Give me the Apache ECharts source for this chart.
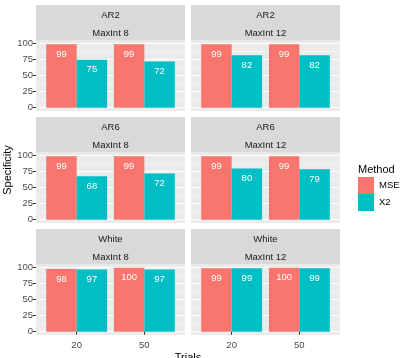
<!DOCTYPE html>
<html>
<head>
<meta charset="utf-8">
<script src="https://cdn.jsdelivr.net/npm/echarts@6/dist/echarts.min.js"></script>
<style>html,body{margin:0;padding:0;background:#fff}#c{width:403px;height:358px}</style>
</head>
<body>
<div id="c"></div>
<script>
const categories = ['20', '50'];
const rowLabels = ['AR2', 'AR6', 'White'];
const colLabels = ['MaxInt 8', 'MaxInt 12'];
const methods = ['MSE', 'X2'];
// panel order: AR2/8, AR2/12, AR6/8, AR6/12, White/8, White/12
const mseValues = [[99, 99], [99, 99], [99, 99], [99, 99], [98, 100], [99, 100]];
const x2Values = [[75, 72], [82, 82], [68, 72], [80, 79], [97, 97], [99, 99]];
const yTicks = [0, 25, 50, 75, 100];

const colors = { MSE: '#F8766D', X2: '#00BFC4' };
const FONT = '"Liberation Sans", Arial, sans-serif';
const panelTops = [40.5, 152.5, 264.5];
const panelH = 70.4;
const panelLefts = [36, 191];
const panelW = 149;
const expandY = 3.2, expandX = 6.8;

const grids = [], xAxes = [], yAxes = [], series = [], graphics = [];
for (let r = 0; r < 3; r++) for (let c = 0; c < 2; c++) {
  const p = r * 2 + c;
  grids.push({ left: panelLefts[c] + expandX, top: panelTops[r] + expandY, width: panelW - 2 * expandX, height: panelH - 2 * expandY });
  xAxes.push({
    type: 'category', gridIndex: p, data: categories, offset: expandY,
    axisLine: { show: false },
    axisTick: { show: r === 2, alignWithLabel: true, length: 3, lineStyle: { color: '#333' } },
    axisLabel: { show: r === 2, fontSize: 9.5, color: '#4D4D4D', margin: 5, fontFamily: FONT },
    splitLine: { show: false }
  });
  yAxes.push({ type: 'value', gridIndex: p, min: yTicks[0], max: yTicks[yTicks.length - 1], show: false });
  const vals = { MSE: mseValues[p], X2: x2Values[p] };
  methods.forEach(m => {
    series.push({
      type: 'bar', name: m, xAxisIndex: p, yAxisIndex: p, data: vals[m],
      barGap: '0%', barCategoryGap: '10%',
      itemStyle: { color: colors[m] },
      label: { show: true, position: 'insideTop', distance: 5, color: '#fff', fontSize: 9.5, fontFamily: FONT },
      emphasis: { disabled: true }
    });
  });
}
for (let r = 0; r < 3; r++) for (let c = 0; c < 2; c++) {
  const g = 6 + r * 2 + c;
  grids.push({ left: panelLefts[c], top: panelTops[r] + expandY, width: panelW, height: panelH - 2 * expandY });
  xAxes.push({ type: 'value', gridIndex: g, min: 0, max: 1, show: false });
  yAxes.push({
    type: 'value', gridIndex: g, min: yTicks[0], max: yTicks[yTicks.length - 1], interval: 25,
    axisLine: { show: false },
    axisTick: { show: c === 0, length: 3, lineStyle: { color: '#333' } },
    axisLabel: { show: c === 0, fontSize: 9.5, color: '#4D4D4D', margin: 3, fontFamily: FONT },
    splitLine: { show: true, lineStyle: { color: '#fff', width: 1 } },
    minorTick: { show: false, splitNumber: 2 },
    minorSplitLine: { show: true, lineStyle: { color: '#fff', width: 0.5 } }
  });
}
for (let r = 0; r < 3; r++) for (let c = 0; c < 2; c++) {
  graphics.push({ type: 'rect', z: -100, shape: { x: panelLefts[c], y: panelTops[r], width: panelW, height: panelH }, style: { fill: '#EBEBEB' } });
  const st = panelTops[r] - 35.5;
  graphics.push({ type: 'rect', z: -100, shape: { x: panelLefts[c], y: st, width: panelW, height: 35.5 }, style: { fill: '#D9D9D9' } });
  graphics.push({ type: 'text', x: panelLefts[c] + panelW / 2, y: st + 10, style: { text: rowLabels[r], fontSize: 9.5, fill: '#1A1A1A', align: 'center', verticalAlign: 'middle', fontFamily: FONT } });
  graphics.push({ type: 'text', x: panelLefts[c] + panelW / 2, y: st + 28.5, style: { text: colLabels[c], fontSize: 9.5, fill: '#1A1A1A', align: 'center', verticalAlign: 'middle', fontFamily: FONT } });
}
graphics.push({ type: 'text', x: 188, y: 358, style: { text: 'Trials', fontSize: 11, fill: '#000', align: 'center', verticalAlign: 'middle', fontFamily: FONT } });
graphics.push({ type: 'text', x: 8, y: 170, rotation: Math.PI / 2, style: { text: 'Specificity', fontSize: 11, fill: '#000', align: 'center', verticalAlign: 'middle', fontFamily: FONT } });
graphics.push({ type: 'text', x: 358, y: 170, style: { text: 'Method', fontSize: 11, fill: '#000', align: 'left', verticalAlign: 'middle', fontFamily: FONT } });

const chart = echarts.init(document.getElementById('c'), null, { renderer: 'canvas' });
chart.setOption({
  animation: false,
  backgroundColor: '#fff',
  grid: grids, xAxis: xAxes, yAxis: yAxes, series: series,
  legend: {
    data: methods, orient: 'vertical', left: 358, top: 177, itemWidth: 16, itemHeight: 17, itemGap: 0,
    icon: 'rect', padding: 0, selectedMode: false,
    textStyle: { fontSize: 9.5, color: '#000', fontFamily: FONT }
  },
  graphic: graphics
});
</script>
</body>
</html>
